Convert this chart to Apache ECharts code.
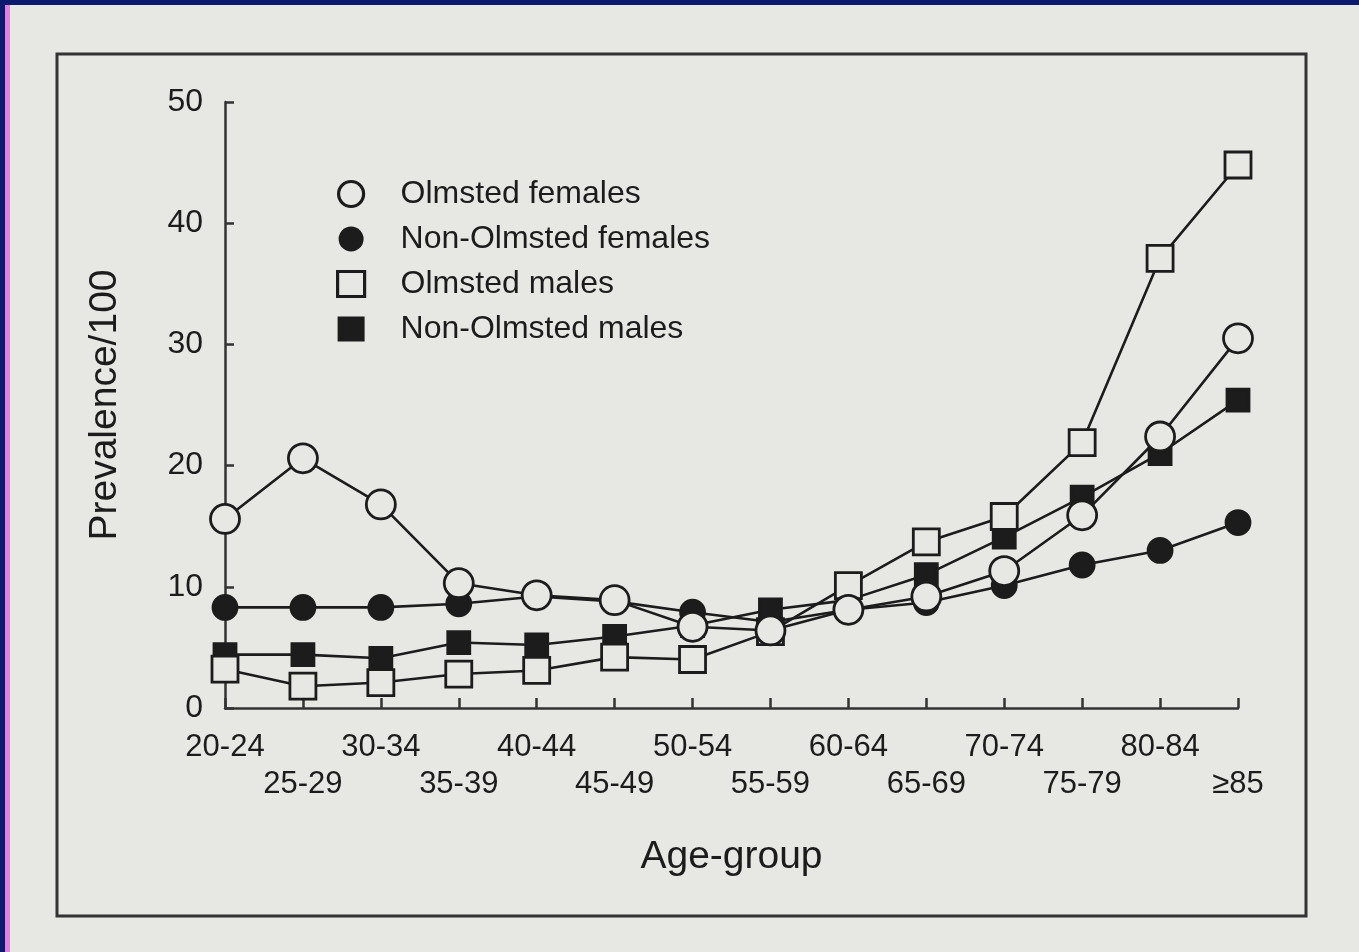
<!DOCTYPE html>
<html>
<head>
<meta charset="utf-8">
<script src="https://cdn.jsdelivr.net/npm/echarts@6/dist/echarts.min.js"></script>
<style>
html,body{margin:0;padding:0;background:#0a1a6e;}
#c{width:1359px;height:952px;}
</style>
</head>
<body>
<div id="c"></div>
<script>
const ageGroups = ['20-24','25-29','30-34','35-39','40-44','45-49','50-54','55-59','60-64','65-69','70-74','75-79','80-84','\u226585'];
const olmstedFemales = [15.6, 20.6, 16.8, 10.3, 9.3, 8.9, 6.7, 6.4, 8.1, 9.2, 11.3, 15.9, 22.4, 30.5];
const nonOlmstedFemales = [8.3, 8.3, 8.3, 8.6, 9.2, 8.8, 7.9, 7.1, 8.1, 8.7, 10.1, 11.8, 13.0, 15.3];
const olmstedMales = [3.2, 1.8, 2.1, 2.8, 3.1, 4.2, 4.0, 6.3, 10.1, 13.7, 15.8, 21.9, 37.1, 44.8];
const nonOlmstedMales = [4.4, 4.4, 4.1, 5.4, 5.2, 5.9, 6.8, 8.1, 8.9, 11.0, 14.1, 17.4, 21.0, 25.4];
const yTicks = [0, 10, 20, 30, 40, 50];

const paper = '#e7e7e3';
const ink = '#1c1c1c';
const font = 'Liberation Sans, Arial, Helvetica, sans-serif';

const chart = echarts.init(document.getElementById('c'));

function mk(name, data, symbol, size, filled, z) {
  return {
    name: name,
    type: 'line',
    data: data,
    symbol: symbol,
    symbolSize: size,
    showAllSymbol: true,
    lineStyle: {color: ink, width: 2.6},
    itemStyle: {color: filled ? ink : paper, borderColor: ink, borderWidth: 2.8},
    emphasis: {disabled: true},
    z: z
  };
}

chart.setOption({
  backgroundColor: '#0a1a6e',
  animation: false,
  graphic: [
    {type: 'rect', shape: {x: 5, y: 5, width: 1354, height: 947}, style: {fill: paper}, z: -10},
    {type: 'rect', shape: {x: 5, y: 5, width: 5, height: 947}, style: {fill: '#e080e0'}, z: -9},
    {type: 'rect', shape: {x: 57, y: 54, width: 1249, height: 862}, style: {fill: 'none', stroke: '#333', lineWidth: 3}, z: -8}
  ],
  grid: {left: 225, right: 121, top: 102, bottom: 244},
  legend: {
    orient: 'vertical',
    left: 331,
    top: 173,
    itemWidth: 27,
    itemHeight: 25,
    itemGap: 13,
    selectedMode: false,
    textStyle: {color: ink, fontFamily: font, fontSize: 32, padding: [0, 0, 0, 31]},
    data: [
      {name: 'Olmsted females', icon: 'circle', itemStyle: {color: paper, borderColor: ink, borderWidth: 3.2}},
      {name: 'Non-Olmsted females', icon: 'circle', itemStyle: {color: ink, borderColor: ink, borderWidth: 0}},
      {name: 'Olmsted males', icon: 'rect', itemStyle: {color: paper, borderColor: ink, borderWidth: 3.2}},
      {name: 'Non-Olmsted males', icon: 'rect', itemStyle: {color: ink, borderColor: ink, borderWidth: 0}}
    ]
  },
  xAxis: {
    type: 'category',
    data: ageGroups,
    boundaryGap: false,
    name: 'Age-group',
    nameLocation: 'middle',
    nameGap: 130,
    nameTextStyle: {color: ink, fontFamily: font, fontSize: 39},
    axisLine: {lineStyle: {color: '#333', width: 2.5}},
    axisTick: {inside: true, length: 10, lineStyle: {color: '#333', width: 2.5}},
    axisLabel: {
      interval: 0,
      margin: 21,
      color: ink,
      fontFamily: font,
      fontSize: 31,
      lineHeight: 37,
      formatter: function (v, i) { return i % 2 ? '\n' + v : v; }
    },
    splitLine: {show: false}
  },
  yAxis: {
    type: 'value',
    min: yTicks[0],
    max: yTicks[yTicks.length - 1],
    interval: 10,
    name: 'Prevalence/100',
    nameLocation: 'middle',
    nameRotate: 90,
    nameGap: 100,
    nameTextStyle: {color: ink, fontFamily: font, fontSize: 39},
    axisLine: {show: true, lineStyle: {color: '#333', width: 2.5}},
    axisTick: {show: true, inside: true, length: 9, lineStyle: {color: '#333', width: 2.5}},
    axisLabel: {margin: 22, color: ink, fontFamily: font, fontSize: 32},
    splitLine: {show: false}
  },
  series: [
    mk('Non-Olmsted females', nonOlmstedFemales, 'circle', 24, true, 3),
    mk('Non-Olmsted males', nonOlmstedMales, 'rect', 22, true, 4),
    mk('Olmsted males', olmstedMales, 'rect', 26, false, 5),
    mk('Olmsted females', olmstedFemales, 'circle', 29, false, 6)
  ]
});
</script>
</body>
</html>
